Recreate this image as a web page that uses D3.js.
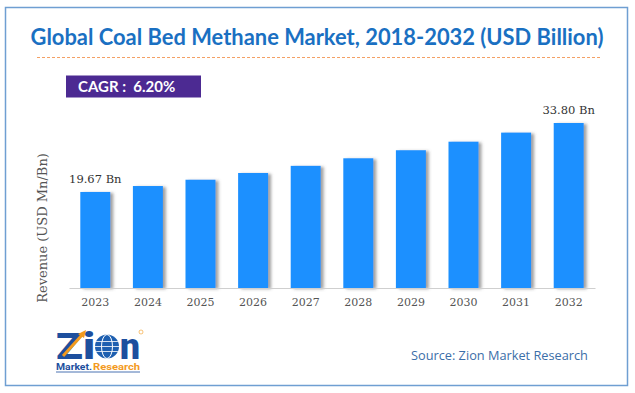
<!DOCTYPE html>
<html>
<head>
<meta charset="utf-8">
<script src="https://cdn.jsdelivr.net/npm/d3@7"></script>
<style>
  html, body { margin: 0; padding: 0; background: #fff; }
  svg { display: block; }
</style>
</head>
<body>
<div id="chart"></div>
<script>
// values (USD billion)
const years = ['2023', '2024', '2025', '2026', '2027', '2028', '2029', '2030', '2031', '2032'];
const revenue = [19.67, 20.89, 22.18, 23.56, 25.02, 26.57, 28.22, 29.97, 31.83, 33.80];
const valueLabels = ['19.67 Bn', '', '', '', '', '', '', '', '', '33.80 Bn'];

const titleText = 'Global Coal Bed Methane Market, 2018-2032 (USD Billion)';
const cagrText = 'CAGR :  6.20%';
const yTitle = 'Revenue (USD Mn/Bn)';
const sourceText = 'Source: Zion Market Research';

const width = 635, height = 393;

const svg = d3.select('#chart').append('svg')
  .attr('width', width)
  .attr('height', height);

const defs = svg.append('defs');
const shadow = defs.append('filter')
  .attr('id', 'barShadow')
  .attr('x', '-20%').attr('y', '-10%')
  .attr('width', '160%').attr('height', '120%');
shadow.append('feDropShadow')
  .attr('dx', 3).attr('dy', 1)
  .attr('stdDeviation', 1.6)
  .attr('flood-color', '#555')
  .attr('flood-opacity', 0.55);

// outer frame
svg.append('rect')
  .attr('x', 5.5).attr('y', 7.5)
  .attr('width', 622).attr('height', 378)
  .attr('fill', '#fff')
  .attr('stroke', '#6f9fd2')
  .attr('stroke-width', 1.5);

// fit a text to a target width by shrinking its font size
function fitWidth(sel, target) {
  const w = sel.node().getComputedTextLength();
  if (w > target) {
    const fs = +sel.attr('font-size');
    sel.attr('font-size', (fs * target / w).toFixed(2));
  }
}

// title
const title = svg.append('text')
  .attr('x', 317).attr('y', 45)
  .attr('text-anchor', 'middle')
  .attr('font-family', 'Lato, "Open Sans", sans-serif')
  .attr('font-weight', 'bold')
  .attr('font-size', 24)
  .attr('fill', '#1a70c2')
  .text(titleText);
fitWidth(title, 573);

svg.append('line')
  .attr('x1', 37).attr('x2', 600)
  .attr('y1', 57.5).attr('y2', 57.5)
  .attr('stroke', '#f4a064')
  .attr('stroke-width', 1)
  .attr('stroke-dasharray', '3,2');

// CAGR badge
svg.append('rect')
  .attr('x', 66).attr('y', 75.5)
  .attr('width', 135).attr('height', 22)
  .attr('fill', '#4c2a92');
const cagr = svg.append('text')
  .attr('x', 78).attr('y', 92)
  .attr('font-family', 'Lato, "Open Sans", sans-serif')
  .attr('font-weight', 'bold')
  .attr('font-size', 15)
  .attr('fill', '#fff')
  .attr('xml:space', 'preserve')
  .text(cagrText);
fitWidth(cagr, 100);

// scales
const x = d3.scaleBand()
  .domain(years)
  .range([69, 595])
  .paddingInner(0.43)
  .paddingOuter(0.215);

const y = d3.scaleLinear()
  .domain([0, 33.8])
  .range([288, 123]);

// bars
svg.append('g')
  .selectAll('rect')
  .data(years)
  .join('rect')
  .attr('x', d => x(d))
  .attr('y', (d, i) => y(revenue[i]))
  .attr('width', x.bandwidth())
  .attr('height', (d, i) => y(0) - y(revenue[i]))
  .attr('fill', '#1e90ff')
  .attr('filter', 'url(#barShadow)');

// x axis
const xAxis = svg.append('g')
  .attr('transform', 'translate(0,288)')
  .call(d3.axisBottom(x).tickSize(0).tickPadding(10));
xAxis.select('.domain')
  .attr('stroke', '#cfcfcf')
  .attr('stroke-width', 1.2);
xAxis.selectAll('text')
  .attr('font-family', '"DejaVu Serif", serif')
  .attr('font-size', 11)
  .attr('fill', '#555');

// value labels on first and last bars
svg.append('g')
  .selectAll('text')
  .data(years.filter((d, i) => valueLabels[i]))
  .join('text')
  .attr('x', d => x(d) + x.bandwidth() / 2)
  .attr('y', d => y(revenue[years.indexOf(d)]) - 9)
  .attr('text-anchor', 'middle')
  .attr('font-family', '"DejaVu Serif", serif')
  .attr('font-size', 11.5)
  .attr('fill', '#333')
  .text(d => valueLabels[years.indexOf(d)]);

// y axis title
svg.append('text')
  .attr('transform', 'translate(47,228) rotate(-90)')
  .attr('text-anchor', 'middle')
  .attr('font-family', '"DejaVu Serif", serif')
  .attr('font-size', 13)
  .attr('fill', '#555')
  .text(yTitle);

// source note
const source = svg.append('text')
  .attr('x', 411).attr('y', 360)
  .attr('font-family', '"Open Sans", sans-serif')
  .attr('font-size', 14)
  .attr('fill', '#3b6ea8')
  .text(sourceText);
fitWidth(source, 177);

// logo (rough rendition of the Zion mark)
const logo = svg.append('g');
logo.append('text')
  .attr('x', 56).attr('y', 359)
  .attr('font-family', 'Roboto, "DejaVu Sans", sans-serif')
  .attr('font-weight', 900)
  .attr('font-size', 36)
  .attr('fill', '#1d4f9e')
  .attr('textLength', 39)
  .attr('lengthAdjust', 'spacingAndGlyphs')
  .text('Zi');
logo.append('circle')
  .attr('cx', 107).attr('cy', 346.5)
  .attr('r', 12)
  .attr('fill', '#1d5fb0');
logo.append('ellipse')
  .attr('cx', 107).attr('cy', 346.5)
  .attr('rx', 5.5).attr('ry', 12)
  .attr('fill', 'none')
  .attr('stroke', '#fff')
  .attr('stroke-width', 1);
[-5, 0, 5].forEach(dy => {
  const hw = Math.sqrt(144 - dy * dy);
  logo.append('line')
    .attr('x1', 107 - hw).attr('x2', 107 + hw)
    .attr('y1', 346.5 + dy).attr('y2', 346.5 + dy)
    .attr('stroke', '#fff')
    .attr('stroke-width', 0.8);
});
logo.append('text')
  .attr('x', 120).attr('y', 359)
  .attr('font-family', 'Roboto, "DejaVu Sans", sans-serif')
  .attr('font-weight', 900)
  .attr('font-size', 36)
  .attr('fill', '#1d4f9e')
  .attr('textLength', 20)
  .attr('lengthAdjust', 'spacingAndGlyphs')
  .text('n');
logo.append('line')
  .attr('x1', 63).attr('x2', 82)
  .attr('y1', 356).attr('y2', 335)
  .attr('stroke', '#f39a1e')
  .attr('stroke-width', 3);
logo.append('path')
  .attr('d', 'M78,334 L86,330 L84,338 Z')
  .attr('fill', '#f39a1e');
logo.append('circle')
  .attr('cx', 141).attr('cy', 332)
  .attr('r', 2)
  .attr('fill', 'none')
  .attr('stroke', '#f39a1e')
  .attr('stroke-width', 0.6);
logo.append('text')
  .attr('x', 56).attr('y', 370)
  .attr('font-family', 'Roboto, "DejaVu Sans", sans-serif')
  .attr('font-weight', 'bold')
  .attr('font-size', 9.5)
  .attr('fill', '#1d4f9e')
  .attr('textLength', 36)
  .attr('lengthAdjust', 'spacingAndGlyphs')
  .text('Market.');
logo.append('text')
  .attr('x', 93).attr('y', 370)
  .attr('font-family', 'Roboto, "DejaVu Sans", sans-serif')
  .attr('font-weight', 'bold')
  .attr('font-size', 9.5)
  .attr('fill', '#f39a1e')
  .attr('textLength', 47)
  .attr('lengthAdjust', 'spacingAndGlyphs')
  .text('Research');
logo.append('line')
  .attr('x1', 56).attr('x2', 140)
  .attr('y1', 372).attr('y2', 372)
  .attr('stroke', '#1d4f9e')
  .attr('stroke-width', 0.8);
</script>
</body>
</html>
